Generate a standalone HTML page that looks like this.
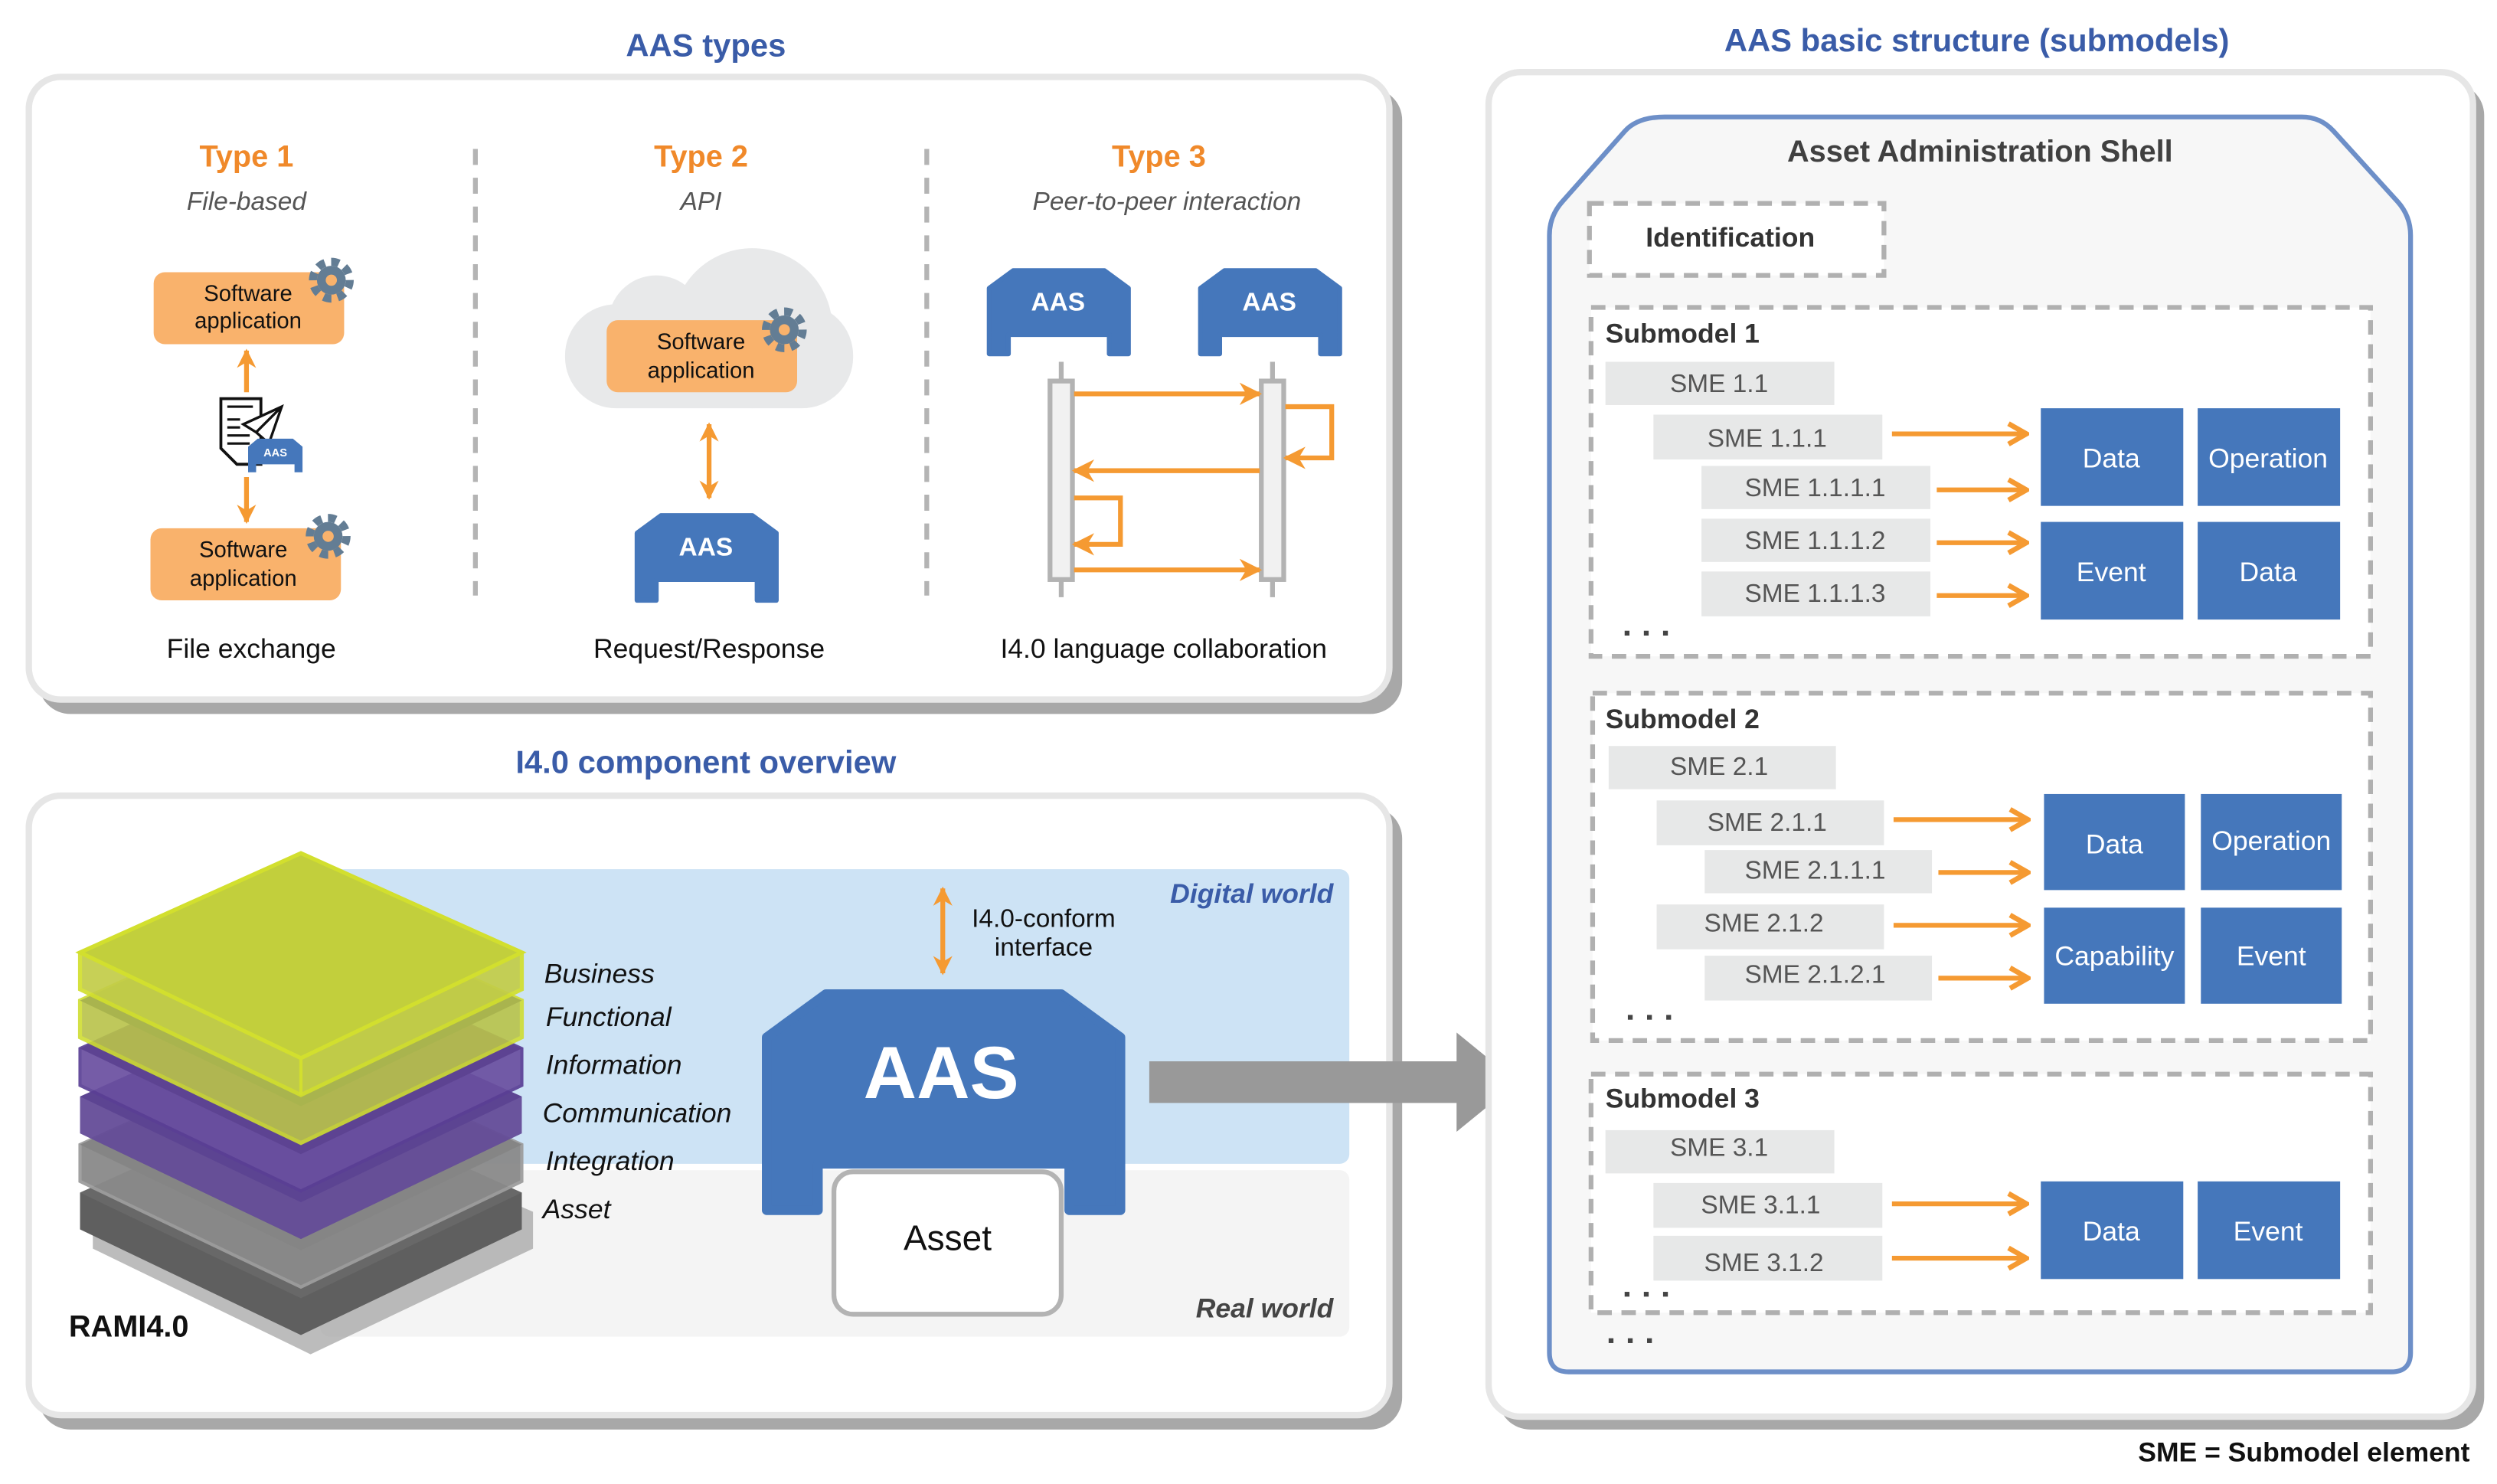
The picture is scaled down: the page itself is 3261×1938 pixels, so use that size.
<!DOCTYPE html>
<html><head><meta charset="utf-8"><style>html,body{margin:0;padding:0;background:#fff}svg{display:block}</style></head>
<body>
<svg xmlns="http://www.w3.org/2000/svg" width="3261" height="1938" viewBox="0 0 1560 927" font-family="Liberation Sans, Arial, sans-serif">
<defs>
<marker id="fa" markerUnits="userSpaceOnUse" markerWidth="14" markerHeight="14" viewBox="0 0 10 10" refX="9" refY="5" orient="auto"><path d="M0,0 L10,5 L0,10 L3,5 Z" fill="#f59a32"/></marker>
<marker id="fs" markerUnits="userSpaceOnUse" markerWidth="12" markerHeight="12" viewBox="0 0 10 10" refX="9" refY="5" orient="auto-start-reverse"><path d="M0,0 L10,5 L0,10 L3,5 Z" fill="#f59a32"/></marker>
<marker id="oa" markerUnits="userSpaceOnUse" markerWidth="16" markerHeight="16" viewBox="0 0 10 10" refX="9" refY="5" orient="auto"><path d="M2,1 L9,5 L2,9" fill="none" stroke="#f59a32" stroke-width="2"/></marker>
<g id="gear"><circle r="9" fill="#637d94"/><circle r="11.5" fill="none" stroke="#637d94" stroke-width="5" stroke-dasharray="5 4"/><circle r="3.5" fill="#f9b26c"/></g>
</defs>

<!-- ===== Panel 1 ===== -->
<text x="441" y="35" text-anchor="middle" font-size="20" font-weight="bold" fill="#3a5ca8">AAS types</text>
<rect x="24" y="55" width="852" height="391" rx="20" fill="#a8a8a8"/>
<rect x="18" y="48" width="850" height="389" rx="20" fill="#fff" stroke="#e6e6e6" stroke-width="4"/>
<line x1="297" y1="93" x2="297" y2="372" stroke="#b4b4b4" stroke-width="3" stroke-dasharray="10 8"/>
<line x1="579" y1="93" x2="579" y2="372" stroke="#b4b4b4" stroke-width="3" stroke-dasharray="10 8"/>

<text x="154" y="104" text-anchor="middle" font-size="19" font-weight="bold" fill="#f0892a">Type 1</text>
<text x="154" y="131" text-anchor="middle" font-size="16" font-style="italic" fill="#555">File-based</text>
<rect x="96" y="170" width="119" height="45" rx="7" fill="#f9b26c"/>
<text x="155" y="188" text-anchor="middle" font-size="14" fill="#111">Software</text>
<text x="155" y="205" text-anchor="middle" font-size="14" fill="#111">application</text>
<use href="#gear" x="207" y="175"/>
<line x1="154" y1="245" x2="154" y2="219" stroke="#f59a32" stroke-width="3" marker-end="url(#fs)"/>
<line x1="154" y1="298" x2="154" y2="326" stroke="#f59a32" stroke-width="3" marker-end="url(#fs)"/>
<path d="M138,249 L163,249 L163,290 L148,290 L138,280 Z" fill="#fff" stroke="#111" stroke-width="1.8"/>
<path d="M142,254 L158,254 M142,262 L150,262 M142,267 L150,267 M142,272 L156,272 M142,277 L156,277" stroke="#111" stroke-width="1.5"/>
<path d="M152,265 L176,254 L168,277 L160,270 Z M160,270 L176,254" fill="#fff" stroke="#111" stroke-width="1.6"/>
<path d="M161,274 L183,274 L189,279 L189,295 L184,295 L184,290 L160,290 L160,295 L155,295 L155,279 Z" fill="#4577bb"/>
<text x="172" y="285" text-anchor="middle" font-size="7" font-weight="bold" fill="#fff">AAS</text>
<rect x="94" y="330" width="119" height="45" rx="7" fill="#f9b26c"/>
<text x="152" y="348" text-anchor="middle" font-size="14" fill="#111">Software</text>
<text x="152" y="366" text-anchor="middle" font-size="14" fill="#111">application</text>
<use href="#gear" x="205" y="335"/>
<text x="157" y="411" text-anchor="middle" font-size="17" fill="#111">File exchange</text>

<text x="438" y="104" text-anchor="middle" font-size="19" font-weight="bold" fill="#f0892a">Type 2</text>
<text x="438" y="131" text-anchor="middle" font-size="16" font-style="italic" fill="#555">API</text>
<g fill="#e8e9ea"><circle cx="470" cy="205" r="50"/><circle cx="410" cy="202" r="30"/><rect x="353" y="190" width="180" height="65" rx="32"/></g>
<rect x="379" y="200" width="119" height="45" rx="7" fill="#f9b26c"/>
<text x="438" y="218" text-anchor="middle" font-size="14" fill="#111">Software</text>
<text x="438" y="236" text-anchor="middle" font-size="14" fill="#111">application</text>
<use href="#gear" x="490" y="206"/>
<line x1="443" y1="265" x2="443" y2="311" stroke="#f59a32" stroke-width="3" marker-start="url(#fs)" marker-end="url(#fs)"/>
<path d="M413,322 L470,322 L485,333 L485,375 L473,375 L473,362 L410,362 L410,375 L398,375 L398,333 Z" fill="#4577bb" stroke="#4577bb" stroke-width="3" stroke-linejoin="round"/>
<text x="441" y="347" text-anchor="middle" font-size="16" font-weight="bold" fill="#fff">AAS</text>
<text x="443" y="411" text-anchor="middle" font-size="17" fill="#111">Request/Response</text>

<text x="724" y="104" text-anchor="middle" font-size="19" font-weight="bold" fill="#f0892a">Type 3</text>
<text x="729" y="131" text-anchor="middle" font-size="16" font-style="italic" fill="#555">Peer-to-peer interaction</text>
<path d="M633,169 L690,169 L705,180 L705,221 L693,221 L693,209 L630,209 L630,221 L618,221 L618,180 Z" fill="#4577bb" stroke="#4577bb" stroke-width="3" stroke-linejoin="round"/>
<text x="661" y="194" text-anchor="middle" font-size="16" font-weight="bold" fill="#fff">AAS</text>
<path d="M765,169 L822,169 L837,180 L837,221 L825,221 L825,209 L762,209 L762,221 L750,221 L750,180 Z" fill="#4577bb" stroke="#4577bb" stroke-width="3" stroke-linejoin="round"/>
<text x="793" y="194" text-anchor="middle" font-size="16" font-weight="bold" fill="#fff">AAS</text>
<line x1="663" y1="226" x2="663" y2="373" stroke="#b3b3b3" stroke-width="3"/>
<line x1="795" y1="226" x2="795" y2="373" stroke="#b3b3b3" stroke-width="3"/>
<rect x="656" y="238" width="14" height="124" fill="#f1f1f1" stroke="#b3b3b3" stroke-width="3"/>
<rect x="788" y="238" width="14" height="124" fill="#f1f1f1" stroke="#b3b3b3" stroke-width="3"/>
<g stroke="#f59a32" stroke-width="3" fill="none">
<line x1="671" y1="246" x2="787" y2="246" marker-end="url(#fa)"/>
<polyline points="803,254 832,254 832,286 803,286" marker-end="url(#fa)"/>
<line x1="787" y1="294" x2="671" y2="294" marker-end="url(#fa)"/>
<polyline points="671,311 700,311 700,340 671,340" marker-end="url(#fa)"/>
<line x1="671" y1="356" x2="787" y2="356" marker-end="url(#fa)"/>
</g>
<text x="727" y="411" text-anchor="middle" font-size="17" fill="#111">I4.0 language collaboration</text>

<!-- ===== Panel 2 ===== -->
<text x="441" y="483" text-anchor="middle" font-size="20" font-weight="bold" fill="#3a5ca8">I4.0 component overview</text>
<rect x="24" y="504" width="852" height="389" rx="20" fill="#a8a8a8"/>
<rect x="18" y="497" width="850" height="387" rx="20" fill="#fff" stroke="#e6e6e6" stroke-width="4"/>
<rect x="200" y="543" width="643" height="184" rx="6" fill="#cde3f5"/>
<rect x="200" y="731" width="643" height="104" rx="6" fill="#f4f4f4"/>
<text x="833" y="564" text-anchor="end" font-size="17" font-weight="bold" font-style="italic" fill="#3a5ca8">Digital world</text>
<text x="833" y="823" text-anchor="end" font-size="17" font-weight="bold" font-style="italic" fill="#444">Real world</text>

<g>
<path d="M52,751 L188,691 L327,751 L327,774 L188,840 L52,774 Z" fill="#a0a0a0" opacity="0.7" transform="translate(6,6)"/>
<path d="M50,745 L188,683 L326,745 L326,768 L188,834 L50,768 Z" fill="#5f5f5f"/>
<path d="M50,745 L188,683 L326,745 L188,811 Z" fill="#686868"/>
<path d="M50,715 L188,653 L326,715 L326,738 L188,804 L50,738 Z" fill="#8a8a8a" opacity="0.95" stroke="#9d9d9d" stroke-width="2"/>
<path d="M50,715 L188,653 L326,715 L188,781 Z" fill="#858585"/>
<path d="M50,685 L188,623 L326,685 L326,708 L188,774 L50,708 Z" fill="#644c98" opacity="0.95"/>
<path d="M50,685 L188,623 L326,685 L188,751 Z" fill="#5c4492"/>
<path d="M50,655 L188,593 L326,655 L326,678 L188,744 L50,678 Z" fill="#6a4fa0" opacity="0.92" stroke="#5a3f95" stroke-width="2"/>
<path d="M50,655 L188,593 L326,655 L188,721 Z" fill="#5d4392"/>
<path d="M50,625 L188,563 L326,625 L326,648 L188,714 L50,648 Z" fill="#b9c34a" opacity="0.9" stroke="#cfdd32" stroke-width="2.5"/>
<path d="M50,625 L188,563 L326,625 L188,691 Z" fill="#a9b44e"/>
<path d="M50,595 L188,533 L326,595 L326,618 L188,684 L50,618 Z" fill="#c3cd48" opacity="0.92" stroke="#d2df2e" stroke-width="2.5"/>
<path d="M50,595 L188,533 L326,595 L188,661 Z" fill="#c2cf3c" stroke="#d2df2e" stroke-width="2.5"/>
<line x1="188" y1="661" x2="188" y2="684" stroke="#d2df2e" stroke-width="2"/>
</g>
<g font-size="17" font-style="italic" fill="#111">
<text x="340" y="614">Business</text>
<text x="341" y="641">Functional</text>
<text x="341" y="671">Information</text>
<text x="339" y="701">Communication</text>
<text x="341" y="731">Integration</text>
<text x="339" y="761">Asset</text>
</g>
<text x="43" y="835" font-size="19" font-weight="bold" fill="#111">RAMI4.0</text>
<line x1="589" y1="555" x2="589" y2="608" stroke="#f59a32" stroke-width="3" marker-start="url(#fs)" marker-end="url(#fs)"/>
<text x="652" y="579" text-anchor="middle" font-size="16" fill="#111">I4.0-conform</text>
<text x="652" y="597" text-anchor="middle" font-size="16" fill="#111">interface</text>
<path d="M516,621 L663,621 L700,648 L700,756 L668,756 L668,727 L511,727 L511,756 L479,756 L479,648 Z" fill="#4577bb" stroke="#4577bb" stroke-width="6" stroke-linejoin="round"/>
<text x="588" y="686" text-anchor="middle" font-size="46" font-weight="bold" fill="#fff">AAS</text>
<rect x="521" y="732" width="142" height="89" rx="12" fill="#fff" stroke="#b3b3b3" stroke-width="3"/>
<text x="592" y="781" text-anchor="middle" font-size="22" fill="#111">Asset</text>
<path d="M718,663 L910,663 L910,645 L948,676 L910,707 L910,689 L718,689 Z" fill="#999"/>

<!-- ===== Panel 3 ===== -->
<text x="1235" y="32" text-anchor="middle" font-size="20" font-weight="bold" fill="#3a5ca8">AAS basic structure (submodels)</text>
<rect x="936" y="52" width="616" height="841" rx="20" fill="#a8a8a8"/>
<rect x="930" y="45" width="615" height="840" rx="20" fill="#fff" stroke="#e6e6e6" stroke-width="4"/>
<path d="M1040,73 L1438,73 Q1450,73 1458,82 L1498,126 Q1506,135 1506,147 L1506,845 Q1506,857 1494,857 L980,857 Q968,857 968,845 L968,147 Q968,135 976,126 L1015,82 Q1023,73 1040,73 Z" fill="#f7f7f7" stroke="#6d8fc8" stroke-width="3"/>
<text x="1237" y="101" text-anchor="middle" font-size="19" font-weight="bold" fill="#404040">Asset Administration Shell</text>
<rect x="993" y="127" width="184" height="45" fill="#fff" stroke="#b0b0b0" stroke-width="3" stroke-dasharray="9 6"/>
<text x="1081" y="154" text-anchor="middle" font-size="17" font-weight="bold" fill="#333">Identification</text>

<g stroke="#b0b0b0" stroke-width="3" stroke-dasharray="9 6" fill="#fff">
<rect x="994" y="192" width="487" height="218"/>
<rect x="995" y="433" width="486" height="217"/>
<rect x="994" y="671" width="487" height="149"/>
</g>
<g font-size="17" font-weight="bold" fill="#333">
<text x="1003" y="214">Submodel 1</text>
<text x="1003" y="455">Submodel 2</text>
<text x="1003" y="692">Submodel 3</text>
</g>
<g fill="#e7e8e8">
<rect x="1003" y="226" width="143" height="27"/>
<rect x="1033" y="259" width="143" height="28"/>
<rect x="1063" y="291" width="143" height="27"/>
<rect x="1063" y="324" width="143" height="27"/>
<rect x="1063" y="357" width="143" height="28"/>
<rect x="1005" y="466" width="142" height="27"/>
<rect x="1035" y="500" width="142" height="28"/>
<rect x="1065" y="531" width="142" height="27"/>
<rect x="1035" y="565" width="142" height="28"/>
<rect x="1065" y="597" width="142" height="28"/>
<rect x="1003" y="706" width="143" height="27"/>
<rect x="1033" y="739" width="143" height="28"/>
<rect x="1033" y="772" width="143" height="28"/>
</g>
<g font-size="16" fill="#555" text-anchor="middle">
<text x="1074" y="245">SME 1.1</text>
<text x="1104" y="279">SME 1.1.1</text>
<text x="1134" y="310">SME 1.1.1.1</text>
<text x="1134" y="343">SME 1.1.1.2</text>
<text x="1134" y="376">SME 1.1.1.3</text>
<text x="1074" y="484">SME 2.1</text>
<text x="1104" y="519">SME 2.1.1</text>
<text x="1134" y="549">SME 2.1.1.1</text>
<text x="1102" y="582">SME 2.1.2</text>
<text x="1134" y="614">SME 2.1.2.1</text>
<text x="1074" y="722">SME 3.1</text>
<text x="1100" y="758">SME 3.1.1</text>
<text x="1102" y="794">SME 3.1.2</text>
</g>
<g stroke="#f59a32" stroke-width="3" marker-end="url(#oa)">
<line x1="1182" y1="271" x2="1266" y2="271"/>
<line x1="1210" y1="306" x2="1266" y2="306"/>
<line x1="1210" y1="339" x2="1266" y2="339"/>
<line x1="1210" y1="372" x2="1266" y2="372"/>
<line x1="1183" y1="512" x2="1267" y2="512"/>
<line x1="1211" y1="545" x2="1267" y2="545"/>
<line x1="1183" y1="578" x2="1267" y2="578"/>
<line x1="1211" y1="611" x2="1267" y2="611"/>
<line x1="1182" y1="752" x2="1266" y2="752"/>
<line x1="1182" y1="786" x2="1266" y2="786"/>
</g>
<g fill="#4577bb">
<rect x="1275" y="255" width="89" height="61"/>
<rect x="1373" y="255" width="89" height="61"/>
<rect x="1275" y="326" width="89" height="61"/>
<rect x="1373" y="326" width="89" height="61"/>
<rect x="1277" y="496" width="88" height="60"/>
<rect x="1375" y="496" width="88" height="60"/>
<rect x="1277" y="567" width="88" height="60"/>
<rect x="1375" y="567" width="88" height="60"/>
<rect x="1275" y="738" width="89" height="61"/>
<rect x="1373" y="738" width="89" height="61"/>
</g>
<g font-size="17" fill="#fff" text-anchor="middle">
<text x="1319" y="292">Data</text>
<text x="1417" y="292">Operation</text>
<text x="1319" y="363">Event</text>
<text x="1417" y="363">Data</text>
<text x="1321" y="533">Data</text>
<text x="1419" y="531">Operation</text>
<text x="1321" y="603">Capability</text>
<text x="1419" y="603">Event</text>
<text x="1319" y="775">Data</text>
<text x="1417" y="775">Event</text>
</g>
<g fill="#444">
<rect x="1015" y="394" width="3" height="3"/><rect x="1027" y="394" width="3" height="3"/><rect x="1039" y="394" width="3" height="3"/>
<rect x="1017" y="634" width="3" height="3"/><rect x="1029" y="634" width="3" height="3"/><rect x="1041" y="634" width="3" height="3"/>
<rect x="1015" y="807" width="3" height="3"/><rect x="1027" y="807" width="3" height="3"/><rect x="1039" y="807" width="3" height="3"/>
<rect x="1005" y="836" width="3" height="3"/><rect x="1017" y="836" width="3" height="3"/><rect x="1029" y="836" width="3" height="3"/>
</g>
<text x="1543" y="913" text-anchor="end" font-size="17" font-weight="bold" fill="#111">SME = Submodel element</text>
</svg>
</body></html>
